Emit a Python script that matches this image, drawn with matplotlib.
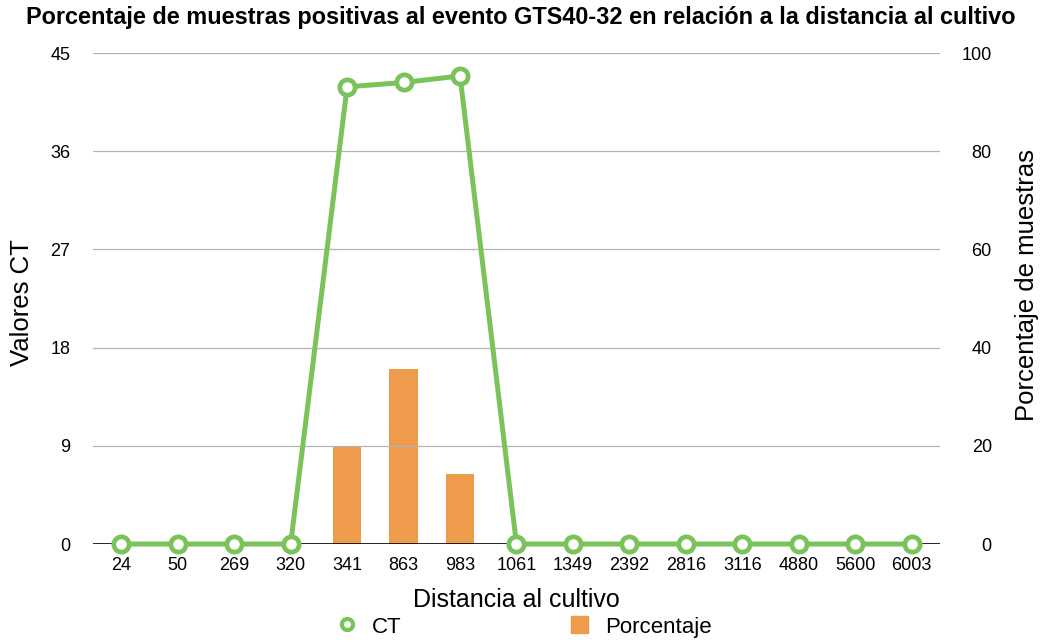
import numpy as np
import matplotlib.pyplot as plt

plt.rcParams['font.family'] = ['Liberation Sans', 'DejaVu Sans']

distancias = ['24', '50', '269', '320', '341', '863', '983', '1061', '1349',
              '2392', '2816', '3116', '4880', '5600', '6003']
ct = [0, 0, 0, 0, 41.9, 42.3, 42.9, 0, 0, 0, 0, 0, 0, 0, 0]
porcentaje = [0, 0, 0, 0, 20, 35.7, 14.3, 0, 0, 0, 0, 0, 0, 0, 0]

verde = '#7ac35b'
naranja = '#ee9c4b'

fig = plt.figure(figsize=(10.42, 6.42), dpi=100)
ax = fig.add_axes([0.0893, 0.1526, 0.8127, 0.7648])
ax2 = ax.twinx()

x = np.arange(len(distancias))

# barras en el eje derecho (porcentaje)
ax2.bar(x, porcentaje, width=0.5, color=naranja, zorder=2)
ax2.set_ylim(0, 100)
ax2.set_yticks(np.arange(0, 101, 20))

# linea CT en el eje izquierdo, dibujada encima
ax.set_zorder(ax2.get_zorder() + 1)
ax.patch.set_visible(False)
ax.plot(x, ct, color=verde, linewidth=3.6, marker='o', markersize=11,
        markerfacecolor='white', markeredgecolor=verde, markeredgewidth=3.4,
        zorder=3, clip_on=False)
ax.set_ylim(0, 45)
ax.set_yticks(np.arange(0, 46, 9))
ax.set_xlim(-0.5, len(distancias) - 0.5)
ax.set_xticks(x)
ax.set_xticklabels(distancias)

for a in (ax, ax2):
    for s in a.spines.values():
        s.set_visible(False)
    a.tick_params(length=0, labelsize=13)
ax.tick_params(axis='y', pad=16.5)
ax.tick_params(axis='x', pad=9)
ax2.tick_params(axis='y', pad=37.4)
for t in ax2.get_yticklabels():
    t.set_horizontalalignment('right')

for v in np.arange(9, 46, 9):
    ax.axhline(v, color='#b4b4b4', linewidth=0.9, zorder=0)
ax.axhline(0, color='black', linewidth=1.2, zorder=1)

ax.set_ylabel('Valores CT', fontsize=18.5, va='center', ha='center')
ax.yaxis.set_label_coords(-0.0838, 0.491)
ax2.set_ylabel('Porcentaje de muestras', fontsize=18.5, va='center', ha='center')
ax2.yaxis.set_label_coords(1.1027, 0.527)
ax.set_xlabel('Distancia al cultivo', fontsize=18, va='center')
ax.xaxis.set_label_coords(0.5, -0.114)
fig.suptitle('Porcentaje de muestras positivas al evento GTS40-32 en relación a la distancia al cultivo',
             fontsize=16.9, fontweight='bold', y=0.972, va='center')

h1 = plt.Line2D([], [], color='none', marker='o', markersize=8,
                markerfacecolor='white', markeredgecolor=verde, markeredgewidth=3)
h2 = plt.Rectangle((0, 0), 1, 1, color=naranja)
fig.legend([h1, h2], ['CT', 'Porcentaje'], loc='center', ncol=2,
           bbox_to_anchor=(0.5035, 0.0234), frameon=False, fontsize=16,
           columnspacing=7.6, handlelength=0.8, handleheight=0.8,
           handletextpad=0.75, borderpad=0)

fig.savefig('out.png', dpi=100)
